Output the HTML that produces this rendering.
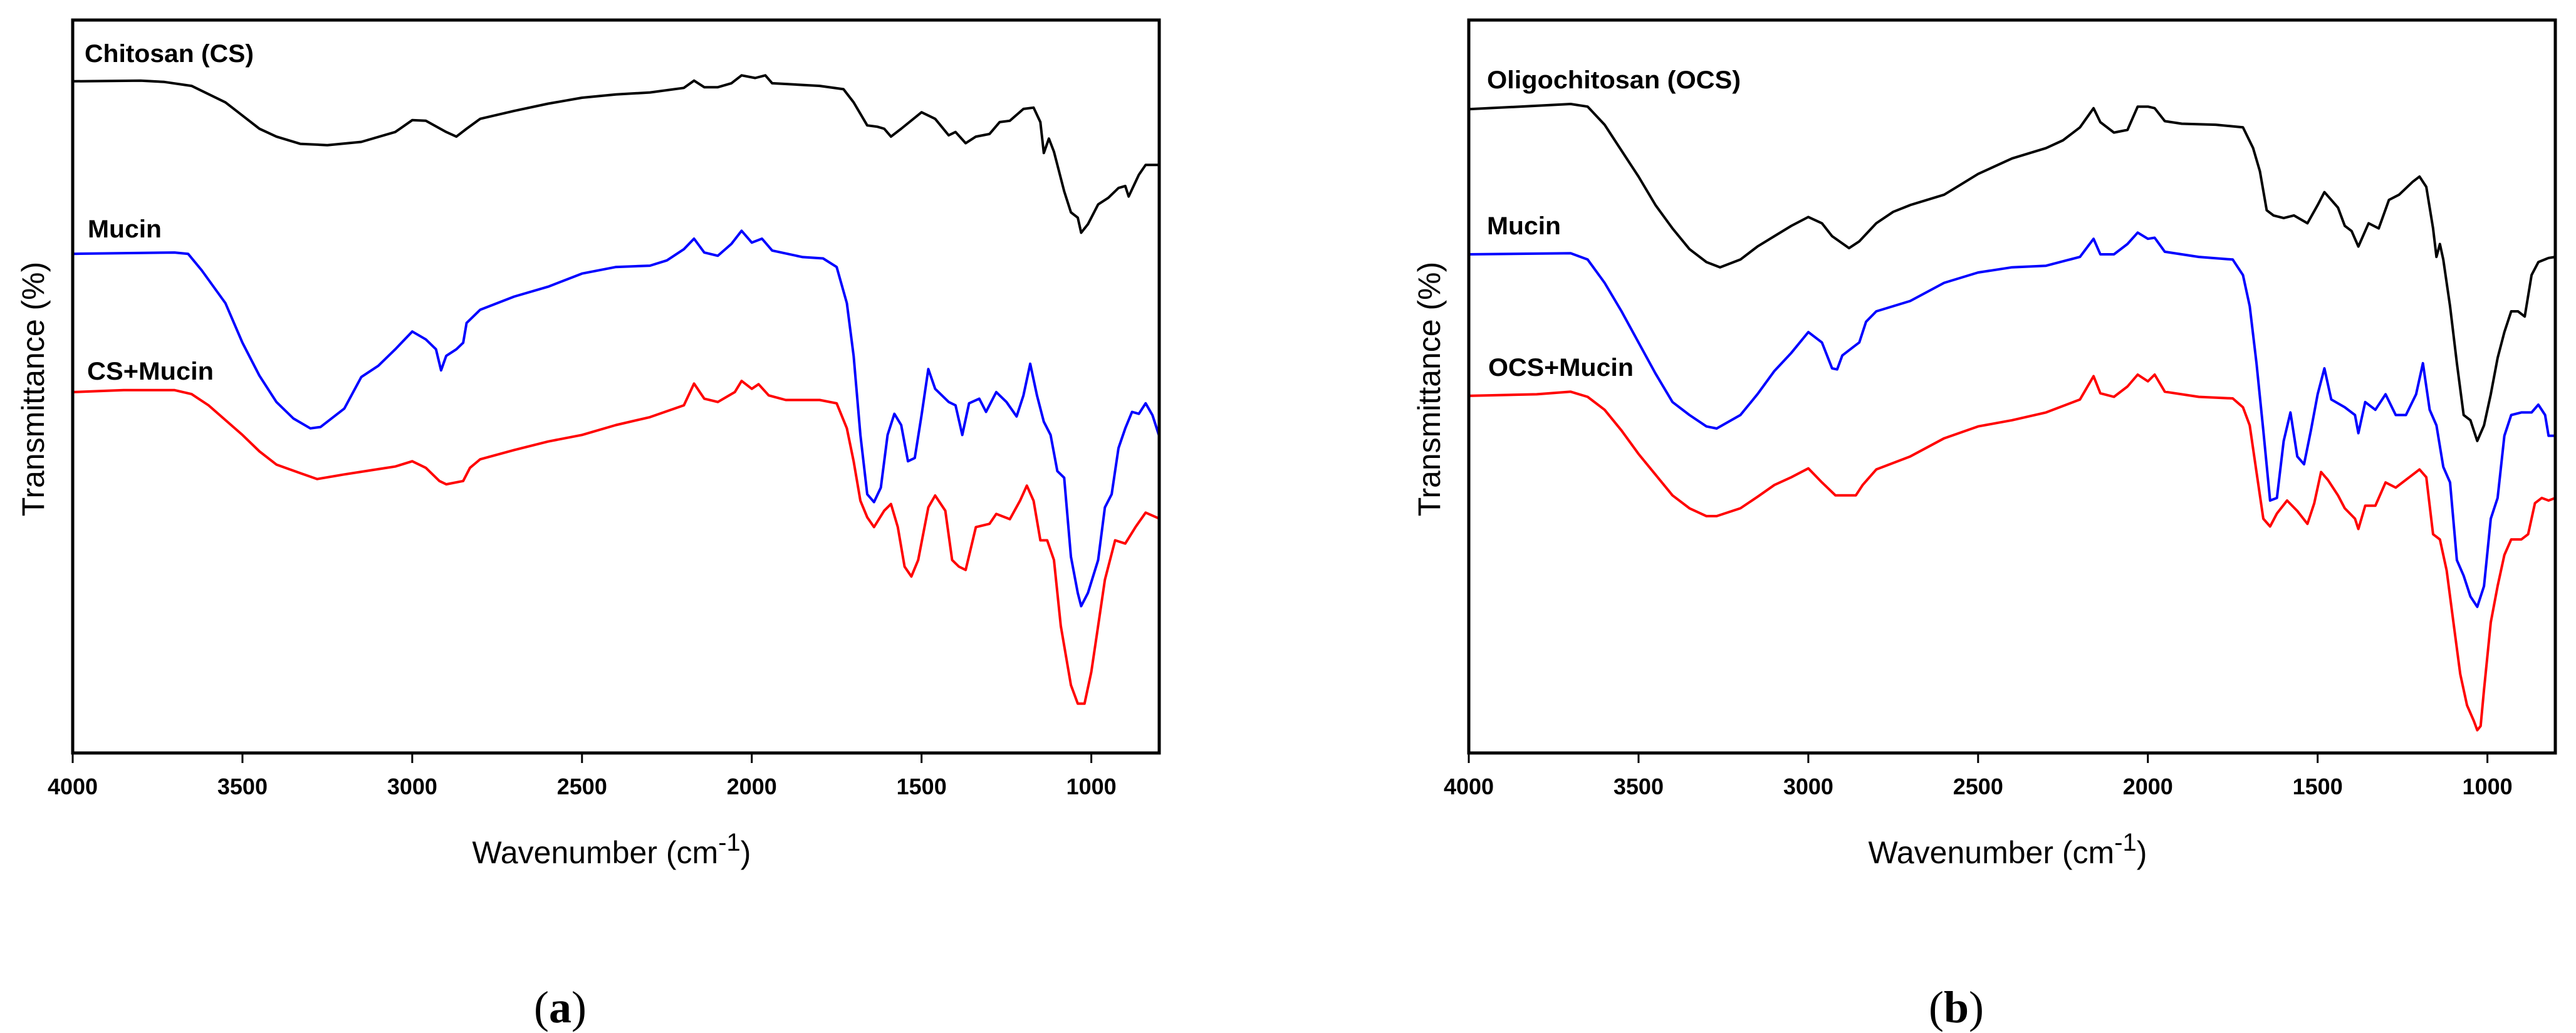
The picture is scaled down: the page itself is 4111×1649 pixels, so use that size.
<!DOCTYPE html>
<html><head><meta charset="utf-8"><style>
html,body{margin:0;padding:0;background:#fff;}
svg{display:block;}
</style></head><body>
<svg id="chart" width="4111" height="1649" viewBox="0 0 4111 1649" xmlns="http://www.w3.org/2000/svg"></svg>
<script>
// ---- data (wavenumber cm-1 / transmittance in arbitrary units) ----
const xTicks = [4000, 3500, 3000, 2500, 2000, 1500, 1000];
const xTickLabels = ["4000", "3500", "3000", "2500", "2000", "1500", "1000"];

// Panel (a)
const aChitosanWn = [4000,3800,3730,3650,3550,3450,3400,3330,3250,3150,3050,3000,2960,2900,2870,2840,2800,2700,2600,2500,2400,2300,2200,2170,2140,2100,2060,2030,1990,1960,1940,1800,1730,1700,1660,1630,1610,1590,1560,1500,1460,1420,1400,1370,1340,1300,1270,1240,1200,1170,1150,1140,1125,1110,1080,1060,1040,1030,1010,980,950,920,900,890,860,840,800];
const aChitosanT = [1020,1021,1019,1013,988,948,936,925,923,928,943,961,960,943,936,948,963,975,986,995,1000,1003,1010,1021,1011,1011,1017,1029,1025,1029,1017,1013,1008,988,953,951,948,936,948,973,963,938,943,926,936,940,958,960,978,980,958,911,933,913,853,821,813,790,803,833,843,858,861,845,878,893,893];
const aMucinWn = [4000,3700,3660,3620,3550,3500,3450,3400,3350,3300,3270,3200,3150,3100,3050,3000,2960,2930,2915,2900,2870,2850,2840,2800,2700,2600,2500,2400,2300,2250,2200,2170,2140,2100,2060,2030,2000,1970,1940,1850,1790,1750,1720,1700,1680,1660,1640,1620,1600,1580,1560,1540,1520,1500,1480,1460,1420,1400,1380,1360,1330,1310,1280,1250,1220,1200,1180,1160,1140,1120,1100,1080,1060,1040,1030,1010,980,960,940,920,900,880,860,840,820,800];
const aMucinT = [758,760,758,733,683,623,573,533,508,493,495,523,571,588,613,640,628,613,581,603,613,623,653,673,693,708,728,738,740,748,765,781,760,755,773,793,775,781,763,753,751,738,683,603,483,393,381,403,483,515,498,443,448,513,583,553,533,528,483,531,538,518,548,533,511,543,591,543,503,483,428,418,298,243,223,243,293,373,393,463,493,518,515,531,513,481];
const aMixWn = [4000,3850,3700,3650,3600,3500,3450,3400,3330,3280,3200,3100,3050,3000,2960,2920,2900,2850,2830,2800,2700,2600,2500,2400,2300,2200,2170,2140,2100,2050,2030,2000,1980,1950,1900,1800,1750,1720,1700,1680,1660,1640,1610,1590,1570,1550,1530,1510,1480,1460,1430,1410,1390,1370,1340,1300,1280,1240,1210,1190,1170,1150,1130,1110,1090,1060,1040,1020,1000,980,960,930,900,870,840,800];
const aMixT = [548,551,551,545,528,483,458,438,425,416,423,431,435,443,433,413,408,413,433,446,460,473,483,498,510,528,561,538,533,548,565,553,560,543,536,536,531,493,443,383,358,343,368,378,343,283,268,293,373,391,368,293,283,278,343,348,363,355,383,406,383,323,323,293,193,103,75,75,123,193,263,323,318,343,365,356];

// Panel (b)
const bOligoWn = [4000,3850,3700,3650,3600,3550,3500,3450,3400,3350,3300,3260,3200,3150,3100,3050,3000,2960,2930,2880,2850,2800,2750,2700,2600,2550,2500,2400,2300,2250,2200,2160,2140,2100,2060,2030,2000,1980,1950,1900,1800,1720,1690,1670,1650,1630,1600,1570,1530,1500,1480,1460,1440,1420,1400,1380,1350,1320,1290,1260,1220,1200,1180,1160,1150,1140,1130,1110,1090,1070,1050,1030,1010,990,970,950,930,910,890,870,850,820,800];
const bOligoT = [1242,1247,1252,1247,1212,1162,1112,1057,1012,972,947,937,952,977,997,1017,1034,1022,997,974,987,1022,1044,1057,1077,1097,1117,1147,1167,1182,1207,1244,1217,1197,1202,1247,1247,1244,1219,1214,1212,1207,1167,1122,1047,1037,1032,1037,1022,1057,1082,1067,1052,1017,1007,977,1022,1012,1067,1077,1102,1112,1092,1012,957,982,952,862,752,652,642,602,632,692,762,812,852,852,842,922,947,955,957];
const bMucinWn = [4000,3700,3650,3600,3550,3500,3450,3400,3350,3300,3270,3200,3150,3100,3050,3000,2960,2930,2915,2900,2870,2860,2850,2830,2800,2700,2600,2500,2400,2300,2200,2160,2140,2100,2060,2030,2000,1980,1950,1850,1750,1720,1700,1680,1660,1640,1620,1600,1580,1560,1540,1520,1500,1480,1460,1420,1390,1380,1360,1330,1300,1270,1240,1210,1190,1170,1150,1130,1110,1090,1070,1050,1030,1010,990,970,950,930,900,870,850,830,820,800];
const bMucinT = [962,964,952,907,852,792,732,677,652,630,626,652,692,737,772,812,792,742,740,767,782,787,792,832,852,872,907,927,937,940,957,992,962,962,982,1004,992,994,967,957,952,922,862,752,622,487,492,602,657,572,557,622,692,742,682,667,652,617,677,662,692,652,652,692,752,662,632,552,522,372,342,302,282,322,452,492,612,652,657,657,672,652,612,612];
const bMixWn = [4000,3800,3700,3650,3600,3550,3500,3450,3400,3350,3300,3270,3200,3150,3100,3050,3000,2960,2920,2880,2860,2840,2800,2700,2600,2500,2400,2300,2200,2160,2140,2100,2060,2030,2000,1980,1950,1850,1750,1720,1700,1680,1660,1640,1620,1590,1560,1530,1510,1490,1470,1440,1420,1390,1380,1360,1330,1300,1270,1230,1200,1180,1160,1140,1120,1100,1080,1060,1040,1030,1020,1010,990,970,950,930,900,880,860,840,820,800];
const bMixT = [689,692,697,687,662,622,577,537,497,472,457,457,472,494,517,532,549,522,497,497,497,517,547,572,607,630,642,657,682,727,694,687,707,730,717,730,697,687,684,667,632,542,452,437,462,487,467,442,482,542,527,497,472,452,432,477,477,522,512,532,547,532,422,412,352,252,152,92,62,44,52,122,252,322,382,412,412,422,482,492,487,492];

// ---- rendering ----
const NS = "http://www.w3.org/2000/svg";
const svg = document.getElementById("chart");
const FONT = '"Liberation Sans", Arial, sans-serif';
function mk(tag, attrs, parent) {
  const el = document.createElementNS(NS, tag);
  for (const k in attrs) el.setAttribute(k, attrs[k]);
  (parent || svg).appendChild(el);
  return el;
}

const PLOT_W = 1734, TOP = 32, BOTTOM = 1202;
const panels = [
  { key: "a", left: 116, yMax: 1113, letter: "a",
    series: [
      { name: "Chitosan (CS)", wn: aChitosanWn, t: aChitosanT, color: "#000000", lx: 135, ly: 99, lw: 270 },
      { name: "Mucin", wn: aMucinWn, t: aMucinT, color: "#0000ff", lx: 140, ly: 379, lw: 118 },
      { name: "CS+Mucin", wn: aMixWn, t: aMixT, color: "#ff0000", lx: 139, ly: 606, lw: 202 }
    ] },
  { key: "b", left: 2344, yMax: 1414, letter: "b",
    series: [
      { name: "Oligochitosan (OCS)", wn: bOligoWn, t: bOligoT, color: "#000000", lx: 2373, ly: 141, lw: 405 },
      { name: "Mucin", wn: bMucinWn, t: bMucinT, color: "#0000ff", lx: 2373, ly: 374, lw: 118 },
      { name: "OCS+Mucin", wn: bMixWn, t: bMixT, color: "#ff0000", lx: 2375, ly: 600, lw: 232 }
    ] }
];

panels.forEach(p => {
  const g = mk("g", {});
  
  
  const xScale = wn => p.left + (4000 - wn) / 3200 * PLOT_W;
  const yScale = v => BOTTOM - v / p.yMax * (BOTTOM - TOP);

  p.series.forEach(s => {
    const d = s.wn.map((w, i) => (i ? "L" : "M") + xScale(w).toFixed(1) + "," + yScale(s.t[i]).toFixed(1)).join(" ");
    const path = mk("path", { d: d, fill: "none", stroke: s.color, "stroke-width": 4, "stroke-linejoin": "round" }, g);
    
    
    const lab = mk("text", { x: s.lx, y: s.ly, "font-family": FONT, "font-weight": "bold", "font-size": 40, fill: "#000", textLength: s.lw, lengthAdjust: "spacingAndGlyphs" }, g);
    lab.textContent = s.name;
    
    
  });

  const frame = mk("rect", { x: p.left, y: TOP, width: PLOT_W, height: BOTTOM - TOP, fill: "none", stroke: "#000", "stroke-width": 5 }, g);
  
  

  xTicks.forEach((t, i) => {
    const x = xScale(t);
    const tk = mk("line", { x1: x, y1: BOTTOM + 2, x2: x, y2: BOTTOM + 16, stroke: "#000", "stroke-width": 3 }, g);
    
    
    const tl = mk("text", { x: x, y: 1268, "text-anchor": "middle", "font-family": FONT, "font-weight": "bold", "font-size": 36, fill: "#000" }, g);
    tl.textContent = xTickLabels[i];
    
    
  });

  const cx = p.left + 860;
  const xt = mk("text", { x: cx, y: 1378, "text-anchor": "middle", "font-family": FONT, "font-size": 50, fill: "#000" }, g);
  xt.innerHTML = 'Wavenumber (cm<tspan dy="-20" font-size="40">-1</tspan><tspan dy="20">)</tspan>';
  
  

  const yx = p.left - 46, yy = 621;
  const yt = mk("text", { x: yx, y: yy, "text-anchor": "middle", "font-family": FONT, "font-size": 50, fill: "#000", transform: "rotate(-90 " + yx + " " + yy + ")" }, g);
  yt.textContent = "Transmittance (%)";
  
  

  const pl = mk("text", { x: p.left + 778, y: 1632, "text-anchor": "middle", "font-family": '"Liberation Serif", "Times New Roman", serif', "font-size": 72, fill: "#000" }, g);
  pl.innerHTML = '(<tspan font-weight="bold">' + p.letter + '</tspan>)';
  
  
});
</script>
</body></html>
